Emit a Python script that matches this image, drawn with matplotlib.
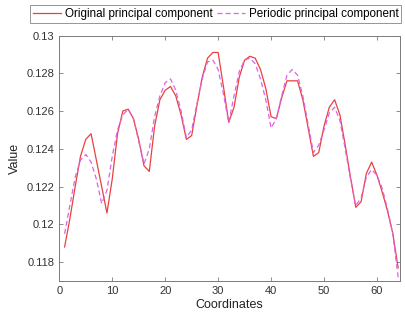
import matplotlib
matplotlib.use("Agg")
import matplotlib.pyplot as plt
import numpy as np

coords = list(range(1, 65))
original = [
    0.1188, 0.1203, 0.1220, 0.1236, 0.1245, 0.1248, 0.1234, 0.1220, 0.1206, 0.1224,
    0.1248, 0.1260, 0.1261, 0.1256, 0.1245, 0.1231, 0.1228, 0.1252, 0.1266, 0.1271,
    0.1273, 0.1268, 0.1258, 0.1245, 0.1247, 0.1263, 0.1278, 0.1288, 0.1291, 0.1291,
    0.1273, 0.1254, 0.1262, 0.1278, 0.1287, 0.1289, 0.1288, 0.1282, 0.1272, 0.1257,
    0.1256, 0.1267, 0.1276, 0.1276, 0.1276, 0.1266, 0.1251, 0.1236, 0.1238, 0.1252,
    0.1262, 0.1266, 0.1258, 0.1242, 0.1225, 0.1209, 0.1212, 0.1227, 0.1233, 0.1226,
    0.1217, 0.1207, 0.1195, 0.1177,
]
periodic = [
    0.1195, 0.1210, 0.1225, 0.1234, 0.1237, 0.1233, 0.1224, 0.1211, 0.1218, 0.1236,
    0.1250, 0.1258, 0.1261, 0.1256, 0.1244, 0.1232, 0.1240, 0.1257, 0.1268, 0.1275,
    0.1277, 0.1271, 0.1260, 0.1246, 0.1250, 0.1264, 0.1277, 0.1286, 0.1287, 0.1282,
    0.1269, 0.1254, 0.1268, 0.1281, 0.1287, 0.1288, 0.1285, 0.1277, 0.1266, 0.1251,
    0.1256, 0.1268, 0.1279, 0.1282, 0.1279, 0.1268, 0.1253, 0.1238, 0.1242, 0.1250,
    0.1259, 0.1262, 0.1255, 0.1240, 0.1224, 0.1210, 0.1214, 0.1225, 0.1229, 0.1226,
    0.1219, 0.1208, 0.1195, 0.1172,
]
xticks = [0, 10, 20, 30, 40, 50, 60]
yticks = [0.118, 0.120, 0.122, 0.124, 0.126, 0.128, 0.130]
ytick_labels = ["0.118", "0.12", "0.122", "0.124", "0.126", "0.128", "0.13"]

plt.rcParams['font.family'] = ['Liberation Sans', 'DejaVu Sans']

fig = plt.figure(figsize=(4.06, 3.22), dpi=100)
ax = fig.add_axes([59.3/406, 41/322, (400-59.3)/406, (281-35.5)/322])

l1, = ax.plot(coords, original, color='#E8413F', lw=0.9, label='Original principal component')
l2, = ax.plot(coords, periodic, color='#E060E8', lw=0.9, ls=(0, (4, 2.5)), label='Periodic principal component')

ax.set_xlim(0, 64.35)
ax.set_ylim(0.117, 0.130)
ax.set_xticks(xticks)
ax.set_yticks(yticks)
ax.set_yticklabels(ytick_labels)

for s in ax.spines.values():
    s.set_color('#7a7a7a')
    s.set_linewidth(0.7)
ax.tick_params(direction='in', length=3, width=0.6, color='#7a7a7a',
               labelsize=8, labelcolor='#333333', top=True, right=True)
ax.set_xlabel('Coordinates', fontsize=9, color='#222222', labelpad=2)
ax.set_ylabel('Value', fontsize=9, color='#222222', labelpad=4)

leg = fig.legend(handles=[l1, l2], loc='center', bbox_to_anchor=(0.5316, 0.957),
                 ncol=2, fontsize=8.4, frameon=True, fancybox=False,
                 handlelength=2.4, handletextpad=0.3, columnspacing=0.4,
                 borderpad=0.25, borderaxespad=0)
leg.get_frame().set_edgecolor('#7a7a7a')
leg.get_frame().set_linewidth(0.7)

fig.savefig('out.png', dpi=100)
